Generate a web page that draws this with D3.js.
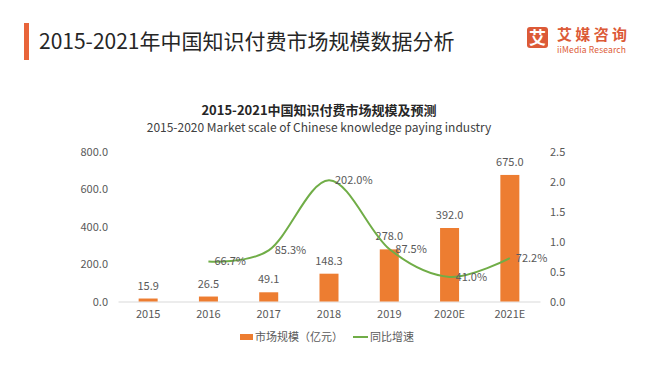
<!DOCTYPE html>
<html>
<head>
<meta charset="utf-8">
<script src="https://cdn.jsdelivr.net/npm/d3@7"></script>
<style>
  body { margin: 0; background: #fff; }
  svg { display: block; font-family: "Noto Sans CJK SC", "Noto Sans", sans-serif; }
</style>
</head>
<body>
<svg id="chart"></svg>
<script>
const years = ['2015', '2016', '2017', '2018', '2019', '2020E', '2021E'];
const scale = [15.9, 26.5, 49.1, 148.3, 278.0, 392.0, 675.0];
const growth = [null, 0.667, 0.853, 2.02, 0.875, 0.41, 0.722];
const leftTicks = [0, 200, 400, 600, 800];
const rightTicks = [0, 0.5, 1.0, 1.5, 2.0, 2.5];

const width = 665, height = 384;
const orange = '#ed7d31', green = '#70ad47', grey = '#595959';

const svg = d3.select('#chart')
  .attr('width', width)
  .attr('height', height);

// header
svg.append('rect')
  .attr('x', 24).attr('y', 23).attr('width', 5).attr('height', 37)
  .attr('fill', '#e8643a');
svg.append('text')
  .attr('x', 39).attr('y', 49)
  .attr('font-size', 21).attr('fill', '#262626')
  .text('2015-2021年中国知识付费市场规模数据分析');

// logo
svg.append('rect')
  .attr('x', 527).attr('y', 27).attr('width', 21).attr('height', 21).attr('rx', 3)
  .attr('fill', '#dc5a37');
svg.append('text')
  .attr('x', 537.5).attr('y', 43.5).attr('text-anchor', 'middle')
  .attr('font-size', 17).attr('font-weight', 'bold').attr('fill', '#fff')
  .text('艾');
svg.append('text')
  .attr('x', 557).attr('y', 40)
  .attr('font-size', 15).attr('font-weight', 'bold').attr('fill', '#dc5a37')
  .attr('textLength', 70)
  .text('艾媒咨询');
svg.append('text')
  .attr('x', 557).attr('y', 53)
  .attr('font-size', 8.5).attr('fill', '#dc5a37').attr('textLength', 69)
  .text('iiMedia Research');

// chart titles
svg.append('text')
  .attr('x', 319).attr('y', 115).attr('text-anchor', 'middle')
  .attr('font-size', 13).attr('font-weight', 'bold').attr('fill', '#262626')
  .text('2015-2021中国知识付费市场规模及预测');
svg.append('text')
  .attr('x', 319).attr('y', 131.5).attr('text-anchor', 'middle')
  .attr('font-size', 12).attr('fill', '#404040')
  .text('2015-2020 Market scale of Chinese knowledge paying industry');

const x = d3.scaleBand().domain(years).range([118, 540]);
const y = d3.scaleLinear().domain([0, 800]).range([301.5, 151.5]);
const y2 = d3.scaleLinear().domain([0, 2.5]).range([301.5, 151.5]);

// left axis
const gl = svg.append('g')
  .attr('transform', 'translate(118,0)')
  .call(d3.axisLeft(y).tickValues(leftTicks).tickFormat(d3.format('.1f')).tickSize(0).tickPadding(10));
gl.select('.domain').remove();

// right axis
const gr = svg.append('g')
  .attr('transform', 'translate(540,0)')
  .call(d3.axisRight(y2).tickValues(rightTicks).tickFormat(d3.format('.1f')).tickSize(0).tickPadding(10));
gr.select('.domain').remove();

// bottom axis
const gb = svg.append('g')
  .attr('transform', 'translate(0,301.5)')
  .call(d3.axisBottom(x).tickSize(0).tickPadding(9));
gb.select('.domain').attr('stroke', '#d9d9d9');

svg.selectAll('.tick text')
  .attr('fill', grey).attr('font-size', 11)
  .attr('font-family', '"Noto Sans CJK SC", sans-serif');

// bars
const bw = 19;
svg.append('g').selectAll('rect')
  .data(scale)
  .join('rect')
  .attr('x', (d, i) => x(years[i]) + x.bandwidth() / 2 - bw / 2)
  .attr('y', d => y(d))
  .attr('width', bw)
  .attr('height', d => y(0) - y(d))
  .attr('fill', orange);

svg.append('g').selectAll('text')
  .data(scale)
  .join('text')
  .attr('x', (d, i) => x(years[i]) + x.bandwidth() / 2)
  .attr('y', d => y(d) - 9)
  .attr('text-anchor', 'middle')
  .attr('font-size', 11).attr('fill', grey)
  .text(d => d3.format('.1f')(d));

// growth line
const pts = growth.map((g, i) => ({ yr: years[i], g })).filter(d => d.g !== null);
const line = d3.line()
  .x(d => x(d.yr) + x.bandwidth() / 2)
  .y(d => y2(d.g))
  .curve(d3.curveCatmullRom.alpha(0));

svg.append('path')
  .datum(pts)
  .attr('d', line)
  .attr('fill', 'none')
  .attr('stroke', green)
  .attr('stroke-width', 2);

svg.append('g').selectAll('text')
  .data(pts)
  .join('text')
  .attr('x', d => x(d.yr) + x.bandwidth() / 2 + 6)
  .attr('y', d => y2(d.g) + 4)
  .attr('font-size', 11).attr('fill', grey)
  .text(d => d3.format('.1%')(d.g));

// legend
svg.append('rect')
  .attr('x', 240).attr('y', 334).attr('width', 13).attr('height', 6)
  .attr('fill', orange);
svg.append('text')
  .attr('x', 255).attr('y', 341)
  .attr('font-size', 11).attr('fill', grey)
  .text('市场规模（亿元）');
svg.append('line')
  .attr('x1', 353).attr('x2', 368).attr('y1', 337).attr('y2', 337)
  .attr('stroke', green).attr('stroke-width', 2);
svg.append('text')
  .attr('x', 370).attr('y', 341)
  .attr('font-size', 11).attr('fill', grey)
  .text('同比增速');
</script>
</body>
</html>
